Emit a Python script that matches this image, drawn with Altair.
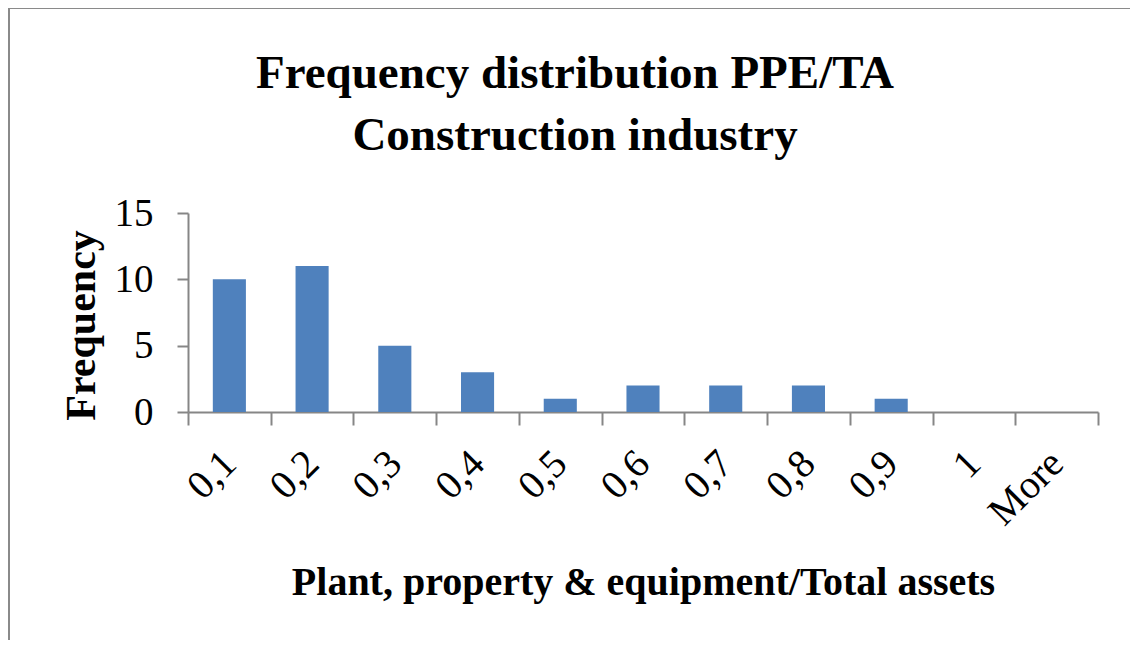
import altair as alt
import pandas as pd

categories = ["0,1", "0,2", "0,3", "0,4", "0,5", "0,6", "0,7", "0,8", "0,9", "1", "More"]
frequency = [10, 11, 5, 3, 1, 2, 2, 2, 1, 0, 0]
title_lines = ["Frequency distribution PPE/TA", "Construction industry"]

df = pd.DataFrame({"bin": categories, "freq": frequency})

SERIF = "Liberation Serif"
AX = "#868686"

bars = alt.Chart(df).mark_bar(color="#4F81BD", width=alt.RelativeBandSize(0.4)).encode(
    x=alt.X("bin:N", sort=categories, scale=alt.Scale(paddingInner=0, paddingOuter=0),
            axis=alt.Axis(title="Plant, property & equipment/Total assets", labelAngle=315,
                          labelAlign="right", labelBaseline="middle",
                          tickBand="extent", tickSize=13, tickColor=AX, domainColor=AX,
                          tickWidth=2, domainWidth=2,
                          labelFont=SERIF, labelFontSize=40, labelColor="black",
                          labelPadding=32,
                          titleFont=SERIF, titleFontSize=40, titleFontWeight="bold",
                          titleColor="black", titlePadding=30)),
    y=alt.Y("freq:Q", scale=alt.Scale(domain=[0, 15]),
            axis=alt.Axis(title="Frequency", values=[0, 5, 10, 15], tickSize=11,
                          tickColor=AX, domainColor=AX, tickWidth=2, domainWidth=2, grid=False,
                          labelFont=SERIF, labelFontSize=39, labelColor="black",
                          labelPadding=24,
                          titleFont=SERIF, titleFontSize=42, titleFontWeight="bold",
                          titleColor="black", titlePadding=11, titleY=112)),
)

border = alt.Chart(df).mark_rect(filled=False, stroke="#8A8A8A", strokeWidth=3.5).encode(
    x=alt.value(-180), x2=alt.value(1100), y=alt.value(-206), y2=alt.value(600)
)

tdf = pd.DataFrame({"line": title_lines, "ypos": [-125, -63]})
title = alt.Chart(tdf).mark_text(font=SERIF, fontSize=47, fontWeight="bold", color="black",
                                 align="center", baseline="alphabetic").encode(
    text="line:N", x=alt.value(387), y=alt.Y("ypos:Q", scale=None)
)

chart = alt.layer(border, bars, title).properties(
    width=910, height=199,
    padding={"left": 180, "top": 205, "right": 32, "bottom": 228},
    autosize=alt.AutoSizeParams(type="none"),
    background="white",
).configure_view(stroke=None)

chart.save("out.html", embed_options={"renderer": "svg", "actions": False})
